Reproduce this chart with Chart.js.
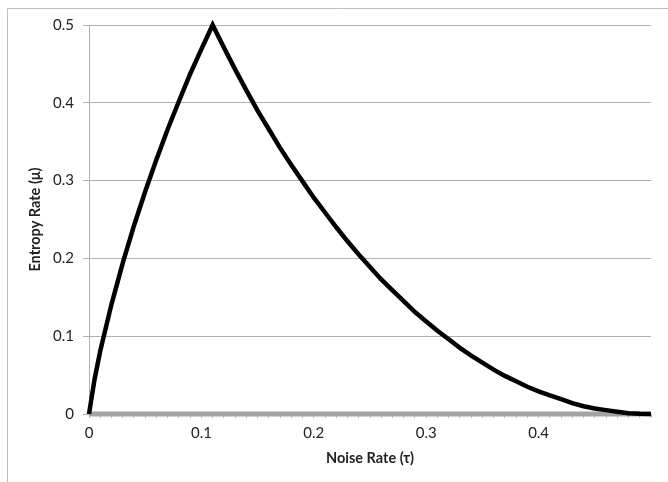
<!DOCTYPE html>
<html>
<head>
<meta charset="utf-8">
<script src="https://cdn.jsdelivr.net/npm/chart.js@4/dist/chart.umd.min.js"></script>
<style>
  html, body { margin: 0; padding: 0; background: #fff; }
  #wrap { position: relative; width: 668px; height: 482px; }
</style>
</head>
<body>
<div id="wrap"><canvas id="myChart" width="668" height="482"></canvas></div>
<script>
// noise rate (tau) and entropy rate (mu)
const noiseRate = [0, 0.005, 0.01, 0.02, 0.03, 0.04, 0.05, 0.06, 0.07, 0.08, 0.09, 0.10, 0.11,
  0.12, 0.13, 0.14, 0.15, 0.16, 0.17, 0.18, 0.19, 0.20, 0.21, 0.22, 0.23, 0.24, 0.25,
  0.26, 0.27, 0.28, 0.29, 0.30, 0.31, 0.32, 0.33, 0.34, 0.35, 0.36, 0.37, 0.38, 0.39,
  0.40, 0.41, 0.42, 0.43, 0.44, 0.45, 0.46, 0.47, 0.48, 0.49, 0.50];
const entropyRate = [0, 0.045, 0.081, 0.141, 0.194, 0.242, 0.286, 0.327, 0.366, 0.402, 0.437, 0.469, 0.500,
  0.471, 0.443, 0.416, 0.390, 0.366, 0.342, 0.320, 0.299, 0.278, 0.259, 0.240, 0.222, 0.205, 0.189,
  0.173, 0.159, 0.145, 0.131, 0.119, 0.107, 0.096, 0.085, 0.075, 0.066, 0.057, 0.049, 0.042, 0.035,
  0.029, 0.024, 0.019, 0.014, 0.010, 0.007, 0.005, 0.003, 0.001, 0.0003, 0];
const baseline = noiseRate.map(() => 0);
const yTicks = [0, 0.1, 0.2, 0.3, 0.4, 0.5];

const frame = {
  id: "frame",
  beforeDraw(chart) {
    const ctx = chart.ctx;
    ctx.save();
    ctx.strokeStyle = "#bdbdbd";
    ctx.lineWidth = 1;
    ctx.beginPath();
    ctx.moveTo(7.5, 482);
    ctx.lineTo(7.5, 8.5);
    ctx.lineTo(668, 8.5);
    ctx.stroke();
    ctx.restore();
  }
};

const ctx = document.getElementById("myChart");
new Chart(ctx, {
  type: "line",
  data: {
    datasets: [
      {
        label: "Entropy Rate",
        data: noiseRate.map((x, i) => ({ x: x, y: entropyRate[i] })),
        borderColor: "#000",
        borderWidth: 4.5,
        pointRadius: 0,
        tension: 0,
        clip: false
      },
      {
        label: "zero",
        data: noiseRate.map((x, i) => ({ x: x, y: baseline[i] })),
        borderColor: "#a3a3a3",
        borderWidth: 5,
        pointRadius: 0,
        clip: false
      }
    ]
  },
  options: {
    responsive: false,
    animation: false,
    layout: { padding: { top: 25, right: 17, left: 0, bottom: 0 } },
    plugins: { legend: { display: false }, tooltip: { enabled: false } },
    scales: {
      x: {
        type: "linear",
        min: 0,
        max: 0.5,
        afterFit: s => { s.height = 68; },
        grid: { drawOnChartArea: false, color: "#b5b5b5", tickLength: 4 },
        border: { display: false },
        ticks: {
          stepSize: 0.01,
          autoSkip: false,
          maxRotation: 0,
          padding: 6,
          color: "#222",
          font: { family: "Lato", size: 15 },
          callback: v => {
            const t = v * 10;
            if (Math.abs(t - Math.round(t)) > 1e-6 || v > 0.45) return "";
            return v === 0 ? "0" : v.toFixed(1);
          }
        },
        title: {
          display: true,
          text: "Noise Rate (τ)",
          color: "#222",
          font: { family: "Lato", size: 14.5, weight: "bold" },
          padding: { top: 0, bottom: 15 }
        }
      },
      y: {
        min: 0,
        max: 0.5,
        afterFit: s => { s.width = 89; },
        afterBuildTicks: s => { s.ticks = yTicks.map(v => ({ value: v })); },
        grid: { color: "#b0b0b0", tickLength: 6 },
        border: { color: "#b0b0b0" },
        ticks: {
          padding: 9,
          color: "#222",
          font: { family: "Lato", size: 15 },
          callback: v => (v === 0 ? "0" : v.toFixed(1))
        },
        title: {
          display: true,
          text: "Entropy Rate (μ)",
          color: "#222",
          font: { family: "Lato", size: 14.5, weight: "bold" },
          padding: { top: 27, bottom: 0 }
        }
      }
    }
  },
  plugins: [frame]
});
</script>
</body>
</html>
